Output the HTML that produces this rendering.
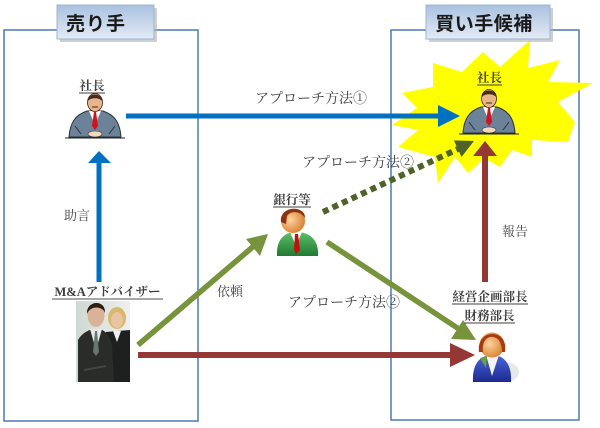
<!DOCTYPE html>
<html><head><meta charset="utf-8">
<style>
html,body{margin:0;padding:0;background:#fff;}
svg{display:block;}
text{font-family:"Liberation Serif","Noto Serif CJK SC","Noto Sans CJK JP",serif;}
.lb{font-size:14px;fill:#404040;}
.sm{font-size:13px;fill:#404040;}
.nm{font-size:12.5px;font-weight:bold;fill:#404040;}
.hd{font-size:19px;font-weight:bold;fill:#1a1a1a;font-family:"Liberation Sans","Noto Sans CJK JP",sans-serif;}
</style></head>
<body>
<svg width="600" height="428" viewBox="0 0 600 428" xmlns="http://www.w3.org/2000/svg">
<defs>
<linearGradient id="hg" x1="0" y1="0" x2="0" y2="1">
<stop offset="0" stop-color="#a9c1df"/><stop offset="1" stop-color="#e3ebf5"/>
</linearGradient>
<radialGradient id="skin" cx="0.4" cy="0.45" r="0.6">
<stop offset="0" stop-color="#fcd3a0"/><stop offset="1" stop-color="#d9832f"/>
</radialGradient>
<linearGradient id="grn" x1="0" y1="0" x2="0" y2="1">
<stop offset="0" stop-color="#5fbf6a"/><stop offset="1" stop-color="#1f7a32"/>
</linearGradient>
<linearGradient id="blu" x1="0" y1="0" x2="0" y2="1">
<stop offset="0" stop-color="#4a64d8"/><stop offset="1" stop-color="#1c2a90"/>
</linearGradient>
<linearGradient id="photo" x1="0" y1="0" x2="1" y2="0">
<stop offset="0" stop-color="#cfd8d2"/><stop offset="1" stop-color="#eef0ee"/>
</linearGradient>
<g id="exec">
<path d="M4,45 C5,31 10,23 22,19 L38,19 C50,23 55,31 56,45 Z" fill="#6c8298" stroke="#27313c" stroke-width="1"/>
<path d="M10,34 L16,42 M50,34 L44,42" stroke="#2a3540" stroke-width="1"/>
<polygon points="24,19 36,19 30,33" fill="#fff"/>
<polygon points="29,20 31,20 33,34 30,38 27,34" fill="#d4121e"/>
<ellipse cx="30" cy="10.5" rx="7.5" ry="9" fill="#e7b48c" stroke="#3a2416" stroke-width="0.8"/>
<path d="M22.5,10 C22,0 38,0 37.5,10 C36,5 24,5 22.5,10 Z" fill="#4a2c18"/>
<path d="M27,15 L33,15" stroke="#6a3a20" stroke-width="1.2"/>
<ellipse cx="30" cy="42" rx="7" ry="3" fill="#f4d8bd" stroke="#333" stroke-width="0.6"/>
<line x1="0" y1="46" x2="60" y2="46" stroke="#222" stroke-width="1"/>
</g>
</defs>

<!-- boxes -->
<rect x="4" y="30" width="194" height="391" fill="none" stroke="#4f79b3" stroke-width="1.5"/>
<rect x="391" y="30" width="188" height="390" fill="none" stroke="#4f79b3" stroke-width="1.5"/>

<!-- starburst -->
<polygon fill="#ffff00" points="530,40 528,68 560,60 548,82 593,83 558,102 575,122 568,142 532,140 532,157 512,150 500,167 484,158 468,173 455,157 438,183 435,157 398,147 418,130 392,125 417,108 402,93 433,87 433,63 462,72 483,52 500,67"/>

<!-- title boxes -->
<rect x="60" y="8" width="97" height="34" fill="#b0b0b0" opacity="0.6"/>
<rect x="57" y="5" width="97" height="34" fill="url(#hg)" stroke="#9bb5d6" stroke-width="1"/>
<text x="96" y="30" class="hd" font-size="20" text-anchor="middle" letter-spacing="1">売り手</text>
<rect x="429" y="8" width="124" height="34" fill="#b0b0b0" opacity="0.6"/>
<rect x="426" y="5" width="124" height="34" fill="url(#hg)" stroke="#9bb5d6" stroke-width="1"/>
<text x="484" y="30" class="hd" text-anchor="middle" letter-spacing="0.5">買い手候補</text>

<!-- executives -->
<use href="#exec" x="65" y="92"/>
<use href="#exec" x="459" y="88"/>
<text x="92" y="90" class="nm" text-anchor="middle">社長</text>
<line x1="79" y1="93" x2="105" y2="93" stroke="#404040" stroke-width="1"/>
<text x="489.5" y="82" class="nm" text-anchor="middle">社長</text>
<line x1="477" y1="85" x2="502" y2="85" stroke="#404040" stroke-width="1"/>

<!-- blue arrows -->
<line x1="126" y1="116" x2="440" y2="116" stroke="#0070c0" stroke-width="5"/>
<polygon points="438,105 460,116 438,127" fill="#0070c0"/>
<line x1="99" y1="282" x2="99" y2="160" stroke="#0070c0" stroke-width="5"/>
<polygon points="88,163 99,151 111,163" fill="#0070c0"/>

<!-- red arrows -->
<line x1="138" y1="355" x2="452" y2="355" stroke="#953735" stroke-width="6"/>
<polygon points="450,343 475,355 450,367" fill="#953735"/>
<line x1="485" y1="282" x2="485" y2="154" stroke="#953735" stroke-width="6"/>
<polygon points="473,156 485,141 497,156" fill="#953735"/>

<!-- green arrows -->
<line x1="138" y1="345" x2="255" y2="245" stroke="#77933c" stroke-width="5.5"/>
<polygon points="268,234 246,239 260,256" fill="#77933c"/>
<line x1="327" y1="242" x2="462" y2="331" stroke="#77933c" stroke-width="5.5"/>
<polygon points="476,340 451,339 463,320" fill="#77933c"/>
<line x1="323" y1="212" x2="458" y2="149" stroke="#4f6228" stroke-width="6" stroke-dasharray="6 4.5"/>
<polygon points="474,141 453.9,140.4 461.5,157" fill="#4f6228"/>

<!-- labels -->
<text x="255" y="103" class="lb">アプローチ方法①</text>
<text x="302" y="167" class="lb">アプローチ方法②</text>
<text x="288" y="307" class="lb">アプローチ方法②</text>
<text x="64" y="220" class="sm">助言</text>
<text x="217" y="296" class="sm">依頼</text>
<text x="502" y="236" class="sm">報告</text>

<!-- M&A advisor -->
<text x="107.5" y="296" class="nm" font-size="13" text-anchor="middle">M&amp;Aアドバイザー</text>
<line x1="52" y1="299" x2="163" y2="299" stroke="#8a8a8a" stroke-width="1.5"/>
<rect x="76" y="301" width="54" height="81" fill="url(#photo)"/>
<ellipse cx="117" cy="318" rx="9" ry="11" fill="#d8b86a"/>
<ellipse cx="117" cy="320" rx="6" ry="8" fill="#e8c4a0"/>
<path d="M106,332 L130,330 L130,382 L104,382 Z" fill="#1e2020"/>
<polygon points="113,331 121,331 117,342" fill="#f0f0f0"/>
<path d="M78,382 L78,340 C82,333 88,330 94,329 L100,329 C106,331 110,336 112,345 L114,382 Z" fill="#2a2c2a"/>
<ellipse cx="96" cy="315" rx="8.5" ry="12" fill="#d9b298"/>
<path d="M87,314 C86,300 106,299 105,313 C103,306 90,305 87,314 Z" fill="#2a1e16"/>
<polygon points="90,329 102,329 96,350" fill="#e8e8e8"/>
<polygon points="95,331 97,331 99,352 96,356 93,352" fill="#6a7470"/>
<path d="M84,370 L106,366" stroke="#444" stroke-width="2"/>

<!-- bank person -->
<text x="292" y="204" class="nm" text-anchor="middle">銀行等</text>
<line x1="273" y1="207" x2="311" y2="207" stroke="#404040" stroke-width="1"/>
<path d="M277,256 C276,240 284,232 296,232 C310,232 319,240 318,256 Z" fill="url(#grn)"/>
<polygon points="290,232 302,232 296,246" fill="#fff"/>
<polygon points="295,234 298,234 300,250 296,254 294,250" fill="#c01010"/>
<circle cx="293" cy="221" r="12" fill="url(#skin)"/>
<path d="M281,222 C279,205 306,205 305,218 C300,210 290,211 287,216 L286,224 Z" fill="#8b3510"/>

<!-- manager -->
<text x="490" y="301" class="nm" text-anchor="middle">経営企画部長</text>
<line x1="452" y1="304" x2="528" y2="304" stroke="#404040" stroke-width="1"/>
<text x="489.5" y="320" class="nm" text-anchor="middle">財務部長</text>
<line x1="464" y1="323" x2="515" y2="323" stroke="#404040" stroke-width="1"/>
<ellipse cx="505" cy="372" rx="14" ry="10" fill="#e8e8e8"/>
<path d="M473,382 C472,364 480,355 492,355 C504,355 512,364 511,382 Z" fill="url(#blu)"/>
<polygon points="486,355 499,355 492,376" fill="#f4f4f4"/>
<polygon points="480,358 487,356 486,368" fill="#6aa040"/>
<circle cx="492" cy="345" r="12.5" fill="url(#skin)"/>
<path d="M479,352 C476,328 509,328 505,352 L502,352 C502,340 496,336 490,337 C485,338 482,344 483,352 Z" fill="#a83a10"/>
</svg>
</body></html>
